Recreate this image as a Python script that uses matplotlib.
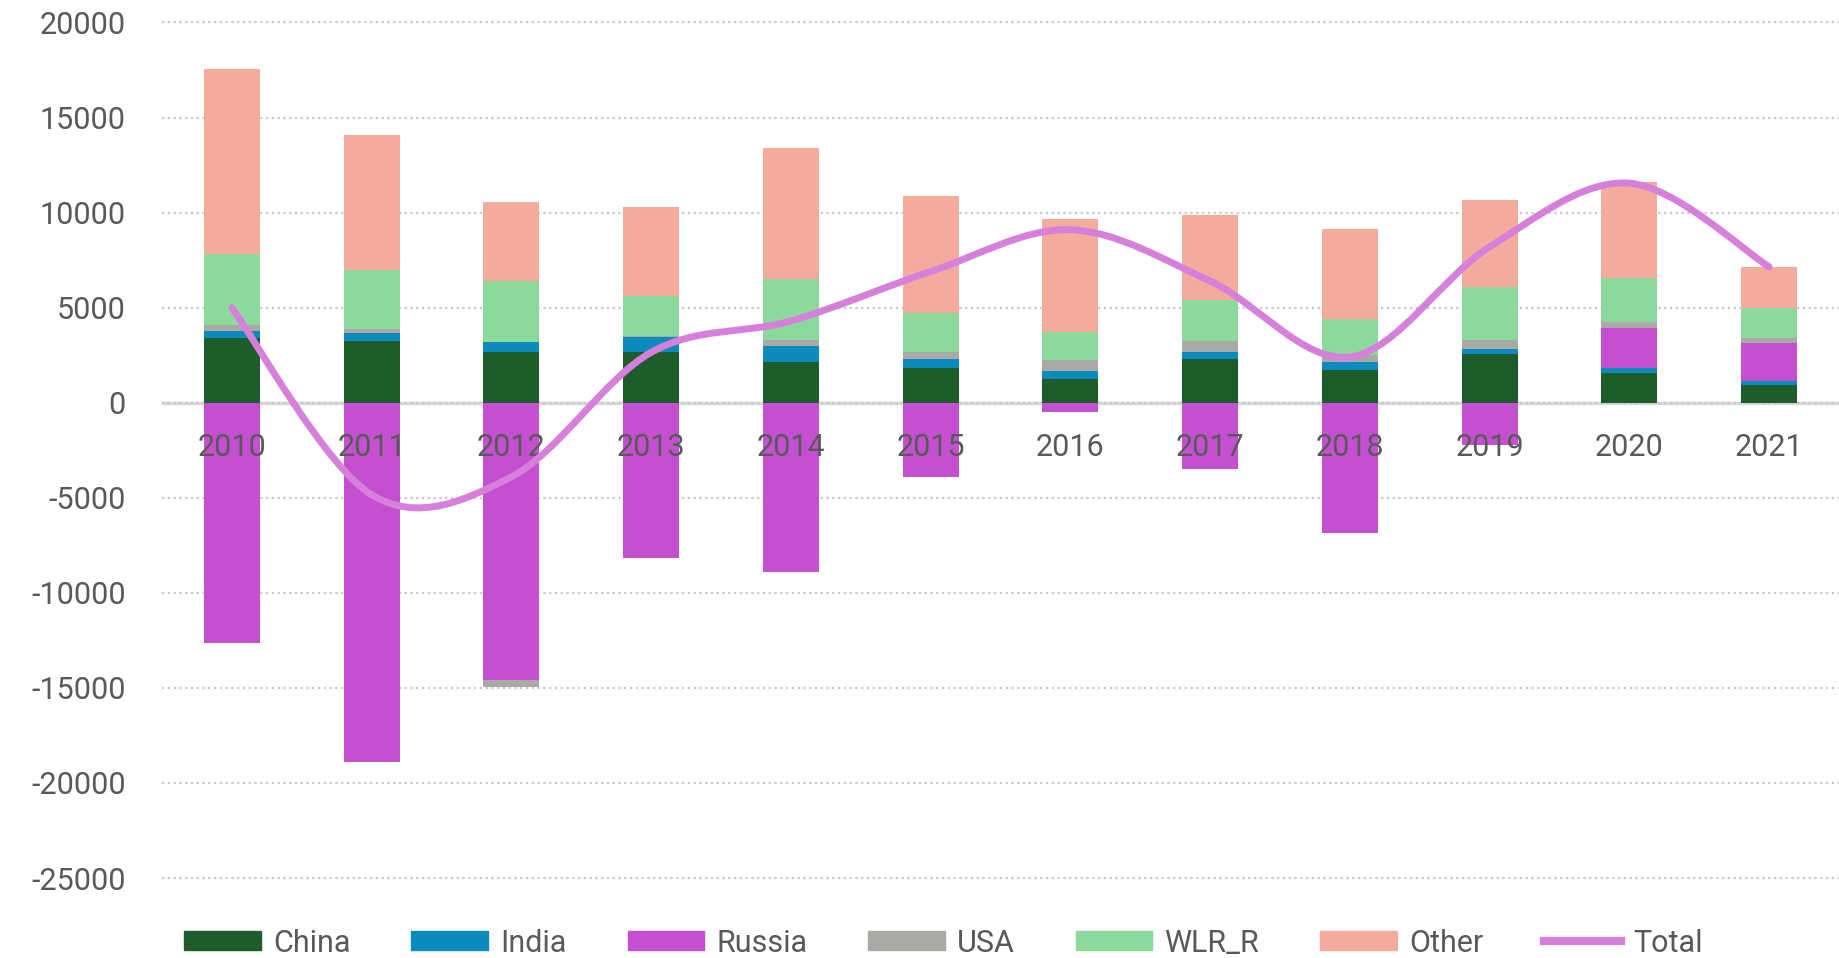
import matplotlib
matplotlib.use("Agg")
import matplotlib.pyplot as plt
import numpy as np
from matplotlib.path import Path
from matplotlib.patches import PathPatch, Patch
from matplotlib.lines import Line2D

years = ["2010", "2011", "2012", "2013", "2014", "2015", "2016", "2017", "2018", "2019", "2020", "2021"]
china = [3400, 3250, 2650, 2670, 2160, 1830, 1250, 2320, 1740, 2580, 1560, 910]
india = [350, 420, 520, 770, 840, 490, 420, 350, 420, 260, 265, 250]
russia = [-12650, -18910, -14580, -8180, -8910, -3910, -490, -3490, -6830, -2250, 2090, 2000]
usa = [320, 230, -380, 50, 320, 340, 560, 580, 350, 470, 320, 260]
wlr_r = [3750, 3100, 3210, 2140, 3170, 2080, 1510, 2150, 1900, 2760, 2350, 1560]
other = [9740, 7070, 4180, 4660, 6910, 6160, 5910, 4500, 4730, 4580, 5000, 2180]
total = [4990, -4840, -3900, 2650, 4300, 6900, 9100, 6400, 2400, 8200, 11550, 7150]

names = ["China", "India", "Russia", "USA", "WLR_R", "Other"]
colors = ["#1f5c2b", "#0a8bbd", "#c44fd0", "#a9a9a5", "#8dd99b", "#f5ab9c"]
line_color = "#d680dc"
text_color = "#595959"

plt.rcParams['font.family'] = ['Roboto', 'DejaVu Sans']
plt.rcParams['axes.unicode_minus'] = False

fig = plt.figure(figsize=(18.39, 9.58), dpi=100)
ax = fig.add_axes([162 / 1839, 1 - 878 / 958, 1 - 162 / 1839, (878 - 22.5) / 958])

x = np.arange(len(years))
pos_bottom = np.zeros(len(years))
neg_bottom = np.zeros(len(years))
for name, vals, c in zip(names, [china, india, russia, usa, wlr_r, other], colors):
    vals = np.array(vals, dtype=float)
    bottom = np.where(vals >= 0, pos_bottom, neg_bottom)
    ax.bar(x, vals, width=0.4, bottom=bottom, color=c, zorder=2)
    pos_bottom += np.where(vals >= 0, vals, 0)
    neg_bottom += np.where(vals < 0, vals, 0)

# smoothed total line (catmull-rom style, like excel)
pts = np.column_stack([x, total]).astype(float)
verts = [pts[0]]
codes = [Path.MOVETO]
for i in range(len(pts) - 1):
    p0 = pts[i - 1] if i > 0 else pts[i]
    p1 = pts[i]
    p2 = pts[i + 1]
    p3 = pts[i + 2] if i + 2 < len(pts) else pts[i + 1]
    verts += [p1 + (p2 - p0) / 6, p2 - (p3 - p1) / 6, p2]
    codes += [Path.CURVE4] * 3
ax.add_patch(PathPatch(Path(verts, codes), facecolor='none', edgecolor=line_color,
                       lw=5, capstyle='round', zorder=4))

ax.set_xlim(-0.5, 11.5)
ax.set_ylim(-25000, 20000)
ax.set_yticks(np.arange(-25000, 20001, 5000))
ax.set_xticks(x)
ax.set_xticklabels(years)

for s in ax.spines.values():
    s.set_visible(False)
ax.spines['bottom'].set_position(('data', 0))

ax.yaxis.grid(True, color='#c8c8c8', linestyle=(0, (1, 1.6)), lw=1.6, zorder=0)
for gl in ax.get_ygridlines():
    gl.set_clip_on(False)
ax.axhline(0, color='#d9d9d9', lw=2.5, zorder=1)

ax.tick_params(axis='both', length=0, labelsize=22, labelcolor=text_color)
ax.tick_params(axis='y', pad=26)
ax.tick_params(axis='x', pad=22)
ax.xaxis.set_zorder(3)

handles = [Patch(color=c) for c in colors] + [Line2D([], [], color=line_color, lw=6)]
fig.legend(handles, names + ["Total"], loc='center', bbox_to_anchor=(0.513, 1 - 943 / 958),
           ncol=7, frameon=False, handlelength=2.5, handleheight=0.55, handletextpad=0.4,
           columnspacing=2.0, fontsize=22, labelcolor=text_color)

fig.savefig("out.png", dpi=100)
